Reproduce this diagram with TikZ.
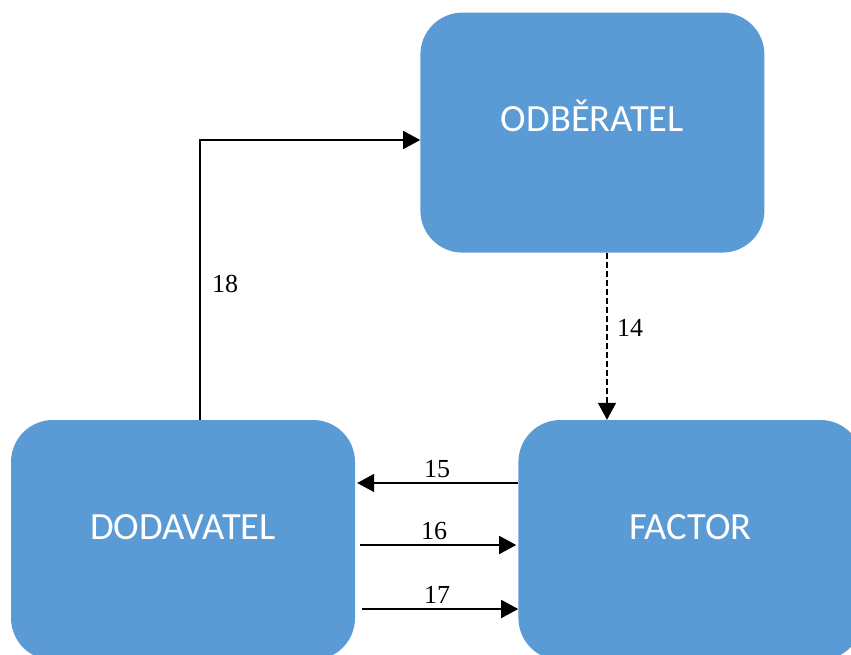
\documentclass[tikz,border=0pt]{standalone}
\usepackage{fontspec}
\setmainfont{Liberation Serif}
\newfontfamily\boxfont{Carlito}
\usetikzlibrary{positioning}
\usetikzlibrary{arrows.meta}

\begin{document}
\begin{tikzpicture}
		[party/.style={rectangle, rounded corners=42pt, fill={rgb,255:red,91;green,155;blue,213},
			minimum width=344pt, minimum height=240pt, text=white, font=\boxfont\fontsize{38.5pt}{40pt}\selectfont,
			text height=24pt, text depth=26pt, inner sep=0pt},
		flow/.style={-{Triangle[length=17pt, width=18pt]}, line width=1.6pt},
		num/.style={font=\fontsize{26pt}{28pt}\selectfont, inner sep=0pt}]
		\useasboundingbox (0pt,0pt) rectangle (851pt,-655pt);
		\node[party] (dod) at (183pt,-540pt) {DODAVATEL};
		\node[party, right=163pt of dod] (fac) {FACTOR};
		\node[party, above=167pt of fac, xshift=-98pt] (odb) {ODBĚRATEL};
		\coordinate (bend) at (200pt,-140pt);

		\draw[flow] (dod.north -| bend) -- (bend) -- (odb.west |- bend);
		\draw[flow, dash pattern=on 6pt off 3pt] (odb.south -| 607pt,0) -- (fac.north -| 607pt,0);
		\draw[flow] (fac.west |- 0,-483pt) -- ([xshift=2pt]dod.east |- 0,-483pt);
		\draw[flow] ([xshift=5pt]dod.east |- 0,-545pt) -- ([xshift=-2pt]fac.west |- 0,-545pt);
		\draw[flow] ([xshift=7pt]dod.east |- 0,-609pt) -- (fac.west |- 0,-609pt);

		\node[num] (n18) at (225pt,-284pt) {18};
		\node[num] (n14) at (630pt,-328pt) {14};
		\node[num] (n15) at (437pt,-469pt) {15};
		\node[num] (n16) at (434pt,-531pt) {16};
		\node[num] (n17) at (437pt,-595pt) {17};
	\end{tikzpicture}
\end{document}
